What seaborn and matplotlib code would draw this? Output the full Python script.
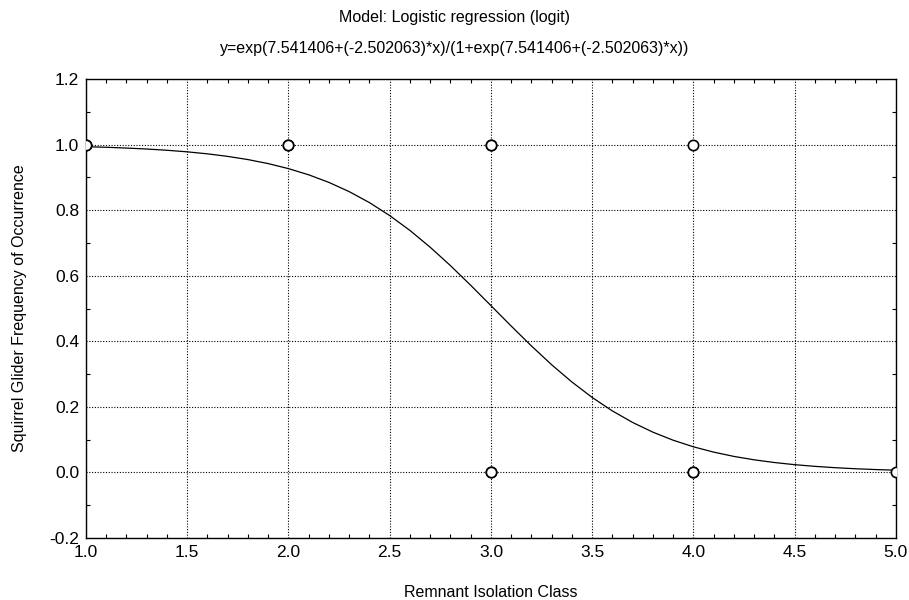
import numpy as np
import pandas as pd
import matplotlib.pyplot as plt
import seaborn as sns
from matplotlib.ticker import MultipleLocator

# observed points (repeated rows = several observations at the same spot)
obs_x = [1, 1, 2, 2, 3, 3, 3, 3, 4, 4, 4, 5]
obs_y = [1, 1, 1, 1, 1, 1, 0, 0, 1, 0, 0, 0]

# fitted logistic curve, every 0.1
curve_x = [1.0, 1.1, 1.2, 1.3, 1.4, 1.5, 1.6, 1.7, 1.8, 1.9,
           2.0, 2.1, 2.2, 2.3, 2.4, 2.5, 2.6, 2.7, 2.8, 2.9,
           3.0, 3.1, 3.2, 3.3, 3.4, 3.5, 3.6, 3.7, 3.8, 3.9,
           4.0, 4.1, 4.2, 4.3, 4.4, 4.5, 4.6, 4.7, 4.8, 4.9, 5.0]
curve_y = [0.9936, 0.9918, 0.9894, 0.9865, 0.9827, 0.9779, 0.9718, 0.9640, 0.9543, 0.9420,
           0.9267, 0.9078, 0.8846, 0.8565, 0.8230, 0.7835, 0.7381, 0.6869, 0.6308, 0.5709,
           0.5088, 0.4465, 0.3858, 0.3284, 0.2758, 0.2287, 0.1875, 0.1524, 0.1228, 0.0983,
           0.0782, 0.0620, 0.0489, 0.0385, 0.0303, 0.0237, 0.0186, 0.0145, 0.0113, 0.0088, 0.0069]

title_lines = ["Model: Logistic regression (logit)",
               "y=exp(7.541406+(-2.502063)*x)/(1+exp(7.541406+(-2.502063)*x))"]
x_label = "Remnant Isolation Class"
y_label = "Squirrel Glider Frequency of Occurrence"

sns.set_style("ticks")
plt.rcParams['font.family'] = ['Liberation Sans', 'DejaVu Sans']
plt.rcParams['axes.unicode_minus'] = False
plt.rcParams['text.color'] = 'black'
plt.rcParams['axes.labelcolor'] = 'black'

obs = pd.DataFrame({'x': obs_x, 'y': obs_y})
curve = pd.DataFrame({'x': curve_x, 'y': curve_y})

fig = plt.figure(figsize=(9.09, 6.0), dpi=100)
ax = fig.add_axes([0.0946, 0.1033, 0.891, 0.765])

sns.lineplot(data=curve, x='x', y='y', ax=ax, color='black', linewidth=0.9, zorder=3)
for _, r in obs.iterrows():
    # draw each observation on its own so repeats come out darker
    sns.scatterplot(x=[r['x']], y=[r['y']], ax=ax, s=55, facecolor='white',
                    edgecolor='black', linewidth=1.2, zorder=4, legend=False)

ax.set_xlim(1.0, 5.0)
ax.set_ylim(-0.2, 1.2)
ax.xaxis.set_major_locator(MultipleLocator(0.5))
ax.xaxis.set_minor_locator(MultipleLocator(0.1))
ax.yaxis.set_major_locator(MultipleLocator(0.2))
ax.yaxis.set_minor_locator(MultipleLocator(0.1))
ax.xaxis.set_major_formatter(plt.FormatStrFormatter('%.1f'))
ax.yaxis.set_major_formatter(plt.FormatStrFormatter('%.1f'))

ax.tick_params(which='both', direction='in', top=True, right=True, labelsize=12.5,
               colors='black', labelcolor='black')
ax.tick_params(which='major', length=0, pad=5)
ax.tick_params(which='minor', length=3, width=0.8)
ax.grid(True, which='major', linestyle=(0, (1, 1.5)), color='black', linewidth=0.8)
for sp in ax.spines.values():
    sp.set_visible(True)
    sp.set_color('black')
    sp.set_linewidth(1.0)

ax.set_xlabel(x_label, fontsize=11.5, labelpad=18, color='black')
ax.set_ylabel(y_label, fontsize=11.5, labelpad=16, color='black')
fig.text(0.5, 0.971, title_lines[0], ha='center', va='center', fontsize=11.5, color='black')
fig.text(0.5, 0.919, title_lines[1], ha='center', va='center', fontsize=11.5, color='black')

fig.savefig('out.png', dpi=100)
